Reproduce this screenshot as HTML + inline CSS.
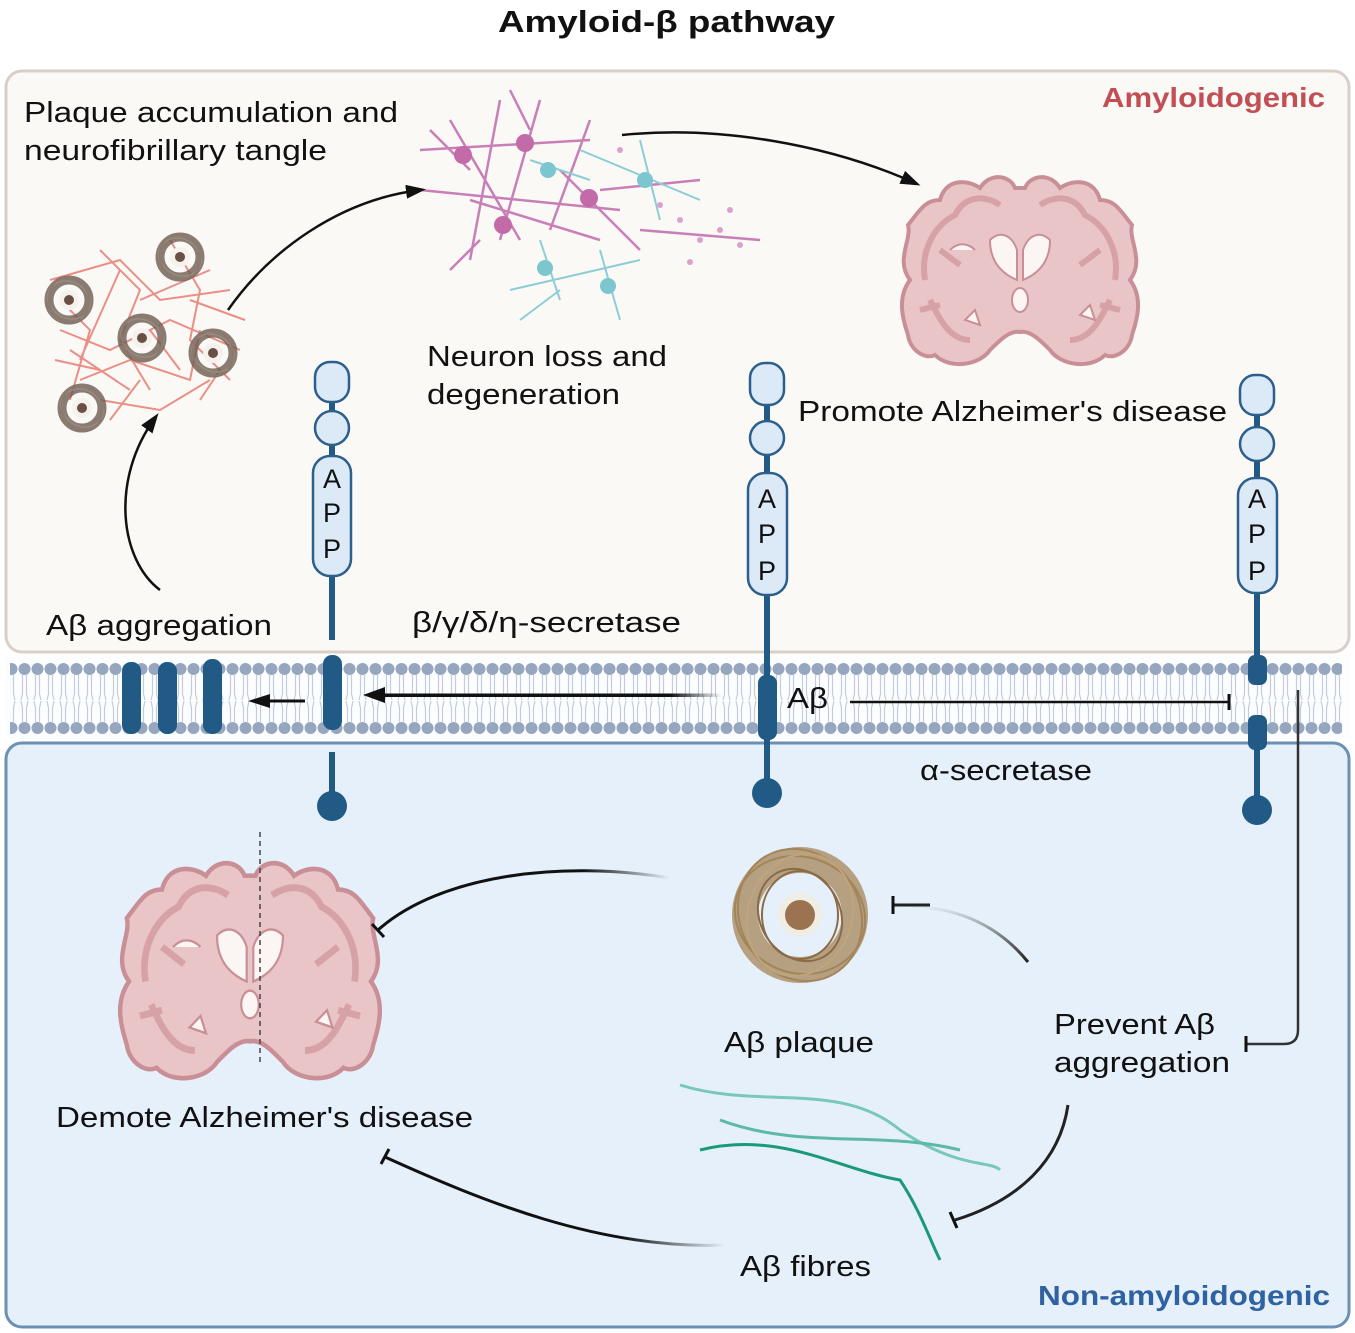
<!DOCTYPE html>
<html><head><meta charset="utf-8"><style>
html,body{margin:0;padding:0;background:#fff;}
svg{display:block;font-family:"Liberation Sans",sans-serif;}
</style></head><body>
<svg width="1355" height="1333" viewBox="0 0 1355 1333" xmlns="http://www.w3.org/2000/svg">
<defs>
<pattern id="lip" x="5" y="0" width="13" height="1333" patternUnits="userSpaceOnUse">
  <circle cx="6.5" cy="669" r="6" fill="#97a6bf"/>
  <circle cx="6.5" cy="728" r="6" fill="#97a6bf"/>
  <path d="M4.5 675 L4.5 694 L3 700 M8.5 675 L8.5 694 L10 700 M3 701 L4.5 708 L4.5 722 M10 701 L8.5 708 L8.5 722" stroke="#c3ccdb" stroke-width="1.2" fill="none"/>
</pattern>
<marker id="ah" markerWidth="22" markerHeight="14" refX="14" refY="7" orient="auto" markerUnits="userSpaceOnUse">
  <path d="M0 0 L20 7 L0 14Z" fill="#111"/>
</marker>
<linearGradient id="fadeR" x1="1" x2="0"><stop offset="0" stop-color="#111" stop-opacity="0"/><stop offset="0.3" stop-color="#111"/><stop offset="1" stop-color="#111"/></linearGradient>
<linearGradient id="fadeV" x1="0" x2="0" y1="0" y2="1"><stop offset="0" stop-color="#222" stop-opacity="0"/><stop offset="1" stop-color="#222"/></linearGradient>
<linearGradient id="fadeH" x1="0" x2="1"><stop offset="0" stop-color="#111"/><stop offset="0.85" stop-color="#111"/><stop offset="1" stop-color="#111" stop-opacity="0"/></linearGradient>
<g id="brain">
  <path d="M-110 10 C-125 -10 -108 -30 -112 -45 C-100 -60 -95 -70 -80 -70 C-75 -90 -55 -92 -40 -82 C-30 -98 -10 -95 -5 -82 L5 -82 C10 -95 30 -98 40 -82 C55 -92 75 -90 80 -70 C95 -70 100 -60 112 -45 C108 -30 125 -10 110 10 C125 30 115 55 112 65 C110 80 95 90 85 85 C70 100 40 95 30 80 C20 70 10 60 0 62 C-10 60 -20 70 -30 80 C-40 95 -70 100 -85 85 C-95 90 -110 80 -112 65 C-115 55 -125 30 -110 10Z" fill="#e9c5c7" stroke="#c98f96" stroke-width="4"/>
  <path d="M-95 10 C-100 -20 -85 -45 -65 -55 C-55 -75 -35 -75 -20 -65 M95 10 C100 -20 85 -45 65 -55 C55 -75 35 -75 20 -65 M-90 30 C-80 50 -70 70 -50 70 M90 30 C80 50 70 70 50 70 M-80 -20 L-60 -5 M80 -20 L60 -5 M-100 40 L-80 35 M100 40 L80 35" stroke="#d6a2a8" stroke-width="6" fill="none"/>
  <path d="M-30 -30 C-20 -40 -8 -35 -3 -20 L-3 10 C-15 5 -30 -5 -30 -30Z M30 -30 C20 -40 8 -35 3 -20 L3 10 C15 5 30 -5 30 -30Z" fill="#fbf6f4" stroke="#c98f96" stroke-width="2"/>
  <ellipse cx="0" cy="30" rx="8" ry="12" fill="#fbf6f4" stroke="#c98f96" stroke-width="2"/>
  <path d="M-70 -20 C-60 -30 -50 -25 -45 -20 M60 45 L70 35 L75 50Z M-55 50 L-45 40 L-40 55Z" stroke="#c98f96" stroke-width="2" fill="#fbf6f4"/>
</g>
<g id="plq" fill="none">
  <circle r="20" stroke="#6e5d52" stroke-width="9" opacity="0.8"/>
  <ellipse rx="22" ry="18" stroke="#9a8a7c" stroke-width="1.5" transform="rotate(30)"/>
  <ellipse rx="20" ry="23" stroke="#8a796c" stroke-width="1.5" transform="rotate(-20)"/>
  <circle r="10" fill="#f5f1ec"/>
  <circle r="5" fill="#6a4f45"/>
</g>
</defs>

<text x="498" y="32" font-size="31" font-weight="bold" fill="#111" textLength="337" lengthAdjust="spacingAndGlyphs">Amyloid-β pathway</text>

<rect x="6" y="71" width="1343" height="581" rx="16" fill="#fbf9f6" stroke="#d9cfc7" stroke-width="3"/>
<rect x="6" y="743" width="1343" height="584" rx="16" fill="#e6f0fa" stroke="#6b90b3" stroke-width="3"/>
<rect x="5" y="655" width="1345" height="84" fill="#fbfdff"/>
<rect x="10" y="660" width="1332" height="76" fill="url(#lip)"/>

<text x="1102" y="107" font-size="28" font-weight="bold" fill="#c24f55" textLength="223" lengthAdjust="spacingAndGlyphs">Amyloidogenic</text>
<text x="1038" y="1305" font-size="28" font-weight="bold" fill="#2e62a0" textLength="292" lengthAdjust="spacingAndGlyphs">Non-amyloidogenic</text>

<g font-size="29" fill="#111" lengthAdjust="spacingAndGlyphs">
<text x="24" y="122" textLength="374" lengthAdjust="spacingAndGlyphs">Plaque accumulation and</text>
<text x="24" y="160" textLength="303" lengthAdjust="spacingAndGlyphs">neurofibrillary tangle</text>
<text x="427" y="366" textLength="240" lengthAdjust="spacingAndGlyphs">Neuron loss and</text>
<text x="427" y="404" textLength="193" lengthAdjust="spacingAndGlyphs">degeneration</text>
<text x="798" y="421" textLength="429" lengthAdjust="spacingAndGlyphs">Promote Alzheimer's disease</text>
<text x="46" y="635" textLength="226" lengthAdjust="spacingAndGlyphs">Aβ aggregation</text>
<text x="412" y="632" textLength="269" lengthAdjust="spacingAndGlyphs">β/γ/δ/η-secretase</text>
<text x="787" y="708" textLength="41" lengthAdjust="spacingAndGlyphs">Aβ</text>
<text x="920" y="780" textLength="172" lengthAdjust="spacingAndGlyphs">α-secretase</text>
<text x="724" y="1052" textLength="150" lengthAdjust="spacingAndGlyphs">Aβ plaque</text>
<text x="1054" y="1034" textLength="161" lengthAdjust="spacingAndGlyphs">Prevent Aβ</text>
<text x="1054" y="1072" textLength="176" lengthAdjust="spacingAndGlyphs">aggregation</text>
<text x="56" y="1127" textLength="417" lengthAdjust="spacingAndGlyphs">Demote Alzheimer's disease</text>
<text x="740" y="1276" textLength="131" lengthAdjust="spacingAndGlyphs">Aβ fibres</text>
</g>

<!-- plaque cluster -->
<g stroke="#e8837a" stroke-width="2" fill="none" opacity="0.9">
<path d="M50 280 L120 260 L160 300 L230 290 M60 330 L110 350 L170 320 L240 350 M80 380 L130 360 L190 380 L200 330 M100 250 L140 290 L120 340 L150 390 M170 240 L200 290 L190 340 L230 380 M60 300 L90 330 L70 400 M140 300 L210 270 M100 400 L160 410 L210 380 M120 270 L80 360 M190 300 L245 320 M150 330 L180 370 M70 350 L130 390 M110 420 L140 380 M200 400 L220 370 M55 360 L100 370"/>
</g>
<use href="#plq" x="69" y="300"/>
<use href="#plq" x="180" y="257"/>
<use href="#plq" x="142" y="338"/>
<use href="#plq" x="213" y="353"/>
<use href="#plq" x="82" y="408"/>

<!-- neurons -->
<g stroke="#c87fb8" stroke-width="2.5" fill="none">
<path d="M420 150 L590 140 M450 120 L520 240 M500 100 L470 260 M420 190 L620 210 M540 100 L500 240 M560 170 L640 250 M590 120 L550 230 M470 200 L600 240 M600 190 L700 180 M640 230 L760 240 M430 130 L470 170 M510 90 L530 130 M480 240 L450 270"/>
</g>
<g stroke="#8ccdd6" stroke-width="2" fill="none">
<path d="M510 290 L640 260 M540 240 L560 300 M600 250 L620 320 M580 150 L700 200 M640 140 L660 220 M530 160 L590 180 M520 320 L560 290"/>
</g>
<g fill="#c36aa8">
<circle cx="463" cy="155" r="9"/><circle cx="525" cy="143" r="9"/><circle cx="589" cy="198" r="9"/><circle cx="503" cy="225" r="9"/>
</g>
<g fill="#7cc6cf"><circle cx="548" cy="170" r="8"/><circle cx="645" cy="180" r="8"/><circle cx="545" cy="268" r="8"/><circle cx="608" cy="286" r="8"/></g>
<g fill="#d9a2cc"><circle cx="680" cy="220" r="3"/><circle cx="700" cy="240" r="3"/><circle cx="720" cy="230" r="3"/><circle cx="740" cy="245" r="3"/><circle cx="660" cy="205" r="3"/><circle cx="620" cy="150" r="3"/><circle cx="690" cy="262" r="3"/><circle cx="730" cy="210" r="3"/></g>

<use href="#brain" transform="translate(1020 270)"/>

<path d="M228 310 C270 250 340 200 420 190" stroke="#111" stroke-width="2.5" fill="none" marker-end="url(#ah)"/>
<path d="M622 135 C720 125 830 145 915 183" stroke="#111" stroke-width="2.5" fill="none" marker-end="url(#ah)"/>
<path d="M160 590 C120 560 110 480 155 418" stroke="#111" stroke-width="2.5" fill="none" marker-end="url(#ah)"/>

<!-- APP proteins -->
<g stroke="#2c5f8b" stroke-width="2.5" fill="#dce9f6">
<line x1="332" y1="390" x2="332" y2="640" stroke="#225a86" stroke-width="6"/>
<rect x="315" y="362" width="34" height="40" rx="15"/>
<circle cx="332" cy="428" r="17"/>
<rect x="313" y="456" width="38" height="120" rx="17"/>
<line x1="767" y1="390" x2="767" y2="700" stroke="#225a86" stroke-width="6"/>
<rect x="750" y="363" width="34" height="42" rx="15"/>
<circle cx="767" cy="438" r="17"/>
<rect x="748" y="473" width="39" height="122" rx="17"/>
<line x1="1257" y1="400" x2="1257" y2="660" stroke="#225a86" stroke-width="6"/>
<rect x="1240" y="375" width="34" height="40" rx="15"/>
<circle cx="1257" cy="444" r="17"/>
<rect x="1238" y="478" width="39" height="115" rx="17"/>
</g>
<g font-size="27" fill="#111" text-anchor="middle">
<text x="332" y="488">A</text><text x="332" y="522">P</text><text x="332" y="558">P</text>
<text x="767" y="508">A</text><text x="767" y="543">P</text><text x="767" y="580">P</text>
<text x="1257" y="508">A</text><text x="1257" y="543">P</text><text x="1257" y="580">P</text>
</g>

<g fill="#225a86">
<rect x="122" y="662" width="19" height="72" rx="9"/>
<rect x="158" y="662" width="19" height="72" rx="9"/>
<rect x="203" y="659" width="19" height="75" rx="9"/>
<rect x="323" y="655" width="19" height="75" rx="9"/>
<rect x="758" y="675" width="19" height="65" rx="8"/>
<rect x="1248" y="655" width="19" height="30" rx="7"/>
<rect x="1248" y="715" width="19" height="35" rx="7"/>
</g>
<g stroke="#225a86" stroke-width="6">
<line x1="332" y1="752" x2="332" y2="800"/>
<line x1="767" y1="730" x2="767" y2="790"/>
<line x1="1257" y1="740" x2="1257" y2="805"/>
</g>
<g fill="#225a86"><circle cx="332" cy="806" r="15"/><circle cx="767" cy="793" r="15"/><circle cx="1257" cy="810" r="15"/></g>

<!-- membrane arrows -->
<line x1="305" y1="701" x2="268" y2="701" stroke="#111" stroke-width="3"/>
<path d="M270 694 L248 701 L270 708Z" fill="#111"/>
<rect x="380" y="693.5" width="342" height="3.5" fill="url(#fadeH)"/>
<path d="M385 687 L363 695 L385 703Z" fill="#111"/>
<line x1="850" y1="702" x2="1228" y2="702" stroke="#111" stroke-width="2.5"/>
<line x1="1229" y1="694" x2="1229" y2="710" stroke="#111" stroke-width="3"/>

<path d="M1298 690 L1298 1030 Q1298 1044 1284 1044 L1246 1044" stroke="#333" stroke-width="2.5" fill="none"/>
<line x1="1246" y1="1036" x2="1246" y2="1052" stroke="#111" stroke-width="3"/>

<!-- bottom plaque -->
<g fill="none" stroke="#a4855a" stroke-width="2">
<circle cx="800" cy="915" r="55" stroke-width="26" opacity="0.75"/>
<ellipse cx="800" cy="915" rx="66" ry="58" transform="rotate(20 800 915)"/>
<ellipse cx="800" cy="915" rx="60" ry="68" transform="rotate(-30 800 915)"/>
<ellipse cx="800" cy="915" rx="48" ry="40" transform="rotate(60 800 915)" stroke="#8a6b45"/>
<ellipse cx="800" cy="915" rx="62" ry="52" transform="rotate(-70 800 915)" stroke="#c0a47a"/>
<ellipse cx="800" cy="915" rx="38" ry="44" stroke="#8a6b45"/>
</g>
<circle cx="800" cy="915" r="22" fill="#f3ece0" opacity="0.8"/>
<circle cx="800" cy="915" r="15" fill="#9b7350"/>

<g fill="none" stroke-width="3">
<path d="M680 1085 C760 1110 840 1080 900 1130 C960 1170 990 1160 1000 1170" stroke="#78c8b8"/>
<path d="M700 1150 C780 1130 840 1170 900 1180 C920 1210 930 1240 940 1260" stroke="#1a9a78"/>
<path d="M720 1120 C800 1150 880 1130 960 1150" stroke="#5cb8a8"/>
</g>

<use href="#brain" transform="translate(250 970) scale(1.1 1.15)"/>
<line x1="260" y1="832" x2="260" y2="1062" stroke="#444" stroke-width="1.5" stroke-dasharray="5 4"/>

<path d="M670 878 C560 860 440 875 378 930" stroke="url(#fadeR)" stroke-width="3" fill="none"/>
<line x1="372" y1="924" x2="384" y2="937" stroke="#111" stroke-width="3"/>
<path d="M1028 962 C990 915 940 905 893 905" stroke="url(#fadeV)" stroke-width="3" fill="none"/>
<path d="M893 905 L930 905" stroke="#222" stroke-width="3"/>
<line x1="893" y1="896" x2="893" y2="914" stroke="#111" stroke-width="3"/>
<path d="M1068 1105 C1060 1160 1020 1200 955 1220" stroke="#222" stroke-width="3" fill="none"/>
<line x1="950" y1="1212" x2="957" y2="1228" stroke="#111" stroke-width="3"/>
<path d="M725 1245 C600 1250 480 1200 385 1157" stroke="url(#fadeR)" stroke-width="3" fill="none"/>
<line x1="381" y1="1164" x2="389" y2="1149" stroke="#111" stroke-width="3"/>
</svg>
</body></html>
